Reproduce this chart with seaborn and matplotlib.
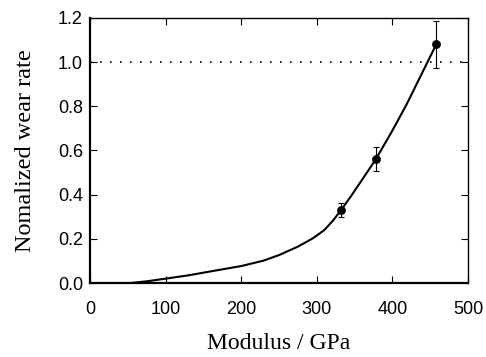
import matplotlib
matplotlib.use("Agg")
import matplotlib.pyplot as plt
import seaborn as sns

# measured points with error bars
modulus = [332, 378, 458]
wear_rate = [0.33, 0.56, 1.08]
wear_err = [0.032, 0.055, 0.108]

# fitted curve
curve_x = [0, 53, 75, 100, 130, 163, 200, 230, 251, 275, 295, 310, 322, 332,
           345, 360, 378, 400, 419, 445, 458]
curve_y = [0.0, 0.0, 0.008, 0.02, 0.035, 0.055, 0.077, 0.102, 0.128, 0.165, 0.203,
           0.24, 0.285, 0.33, 0.392, 0.468, 0.56, 0.69, 0.81, 0.99, 1.08]

sns.set_style("ticks")
plt.rcParams["font.family"] = ["Liberation Sans", "DejaVu Sans"]
plt.rcParams["text.color"] = "black"
plt.rcParams["axes.labelcolor"] = "black"

fig = plt.figure(figsize=(4.86, 3.57), dpi=100)
ax = fig.add_axes([0.185, 0.207, 0.778, 0.743])

sns.lineplot(x=curve_x, y=curve_y, ax=ax, color="black", linewidth=1.5)
ax.errorbar(modulus, wear_rate, yerr=wear_err, fmt="none", ecolor="black",
            elinewidth=0.8, capsize=2.2, capthick=0.8)
sns.scatterplot(x=modulus, y=wear_rate, ax=ax, color="black", s=34,
                edgecolor="black", zorder=3)
ax.axhline(1.0, color="black", linestyle=(0, (1, 5)), linewidth=1.2)

ax.set_xlim(0, 500)
ax.set_ylim(0, 1.2)
ax.set_xticks([0, 100, 200, 300, 400, 500])
ax.set_yticks([0.0, 0.2, 0.4, 0.6, 0.8, 1.0, 1.2])
ax.set_yticklabels([f"{v:.1f}" for v in ax.get_yticks()])
ax.tick_params(direction="in", top=True, right=True, length=5, width=0.8,
               labelsize=13, colors="black")
ax.tick_params(axis="x", pad=13)
ax.tick_params(axis="y", pad=5)
for side in ["top", "right"]:
    ax.spines[side].set_linewidth(1.0)
for side in ["left", "bottom"]:
    ax.spines[side].set_linewidth(1.6)
for s in ax.spines.values():
    s.set_color("black")

ax.set_xlabel("Modulus / GPa", family=["Liberation Serif"], fontsize=17, labelpad=11)
ax.set_ylabel("Nomalized wear rate", family=["Liberation Serif"], fontsize=17.5, labelpad=16)

plt.savefig("out.png", dpi=100)
